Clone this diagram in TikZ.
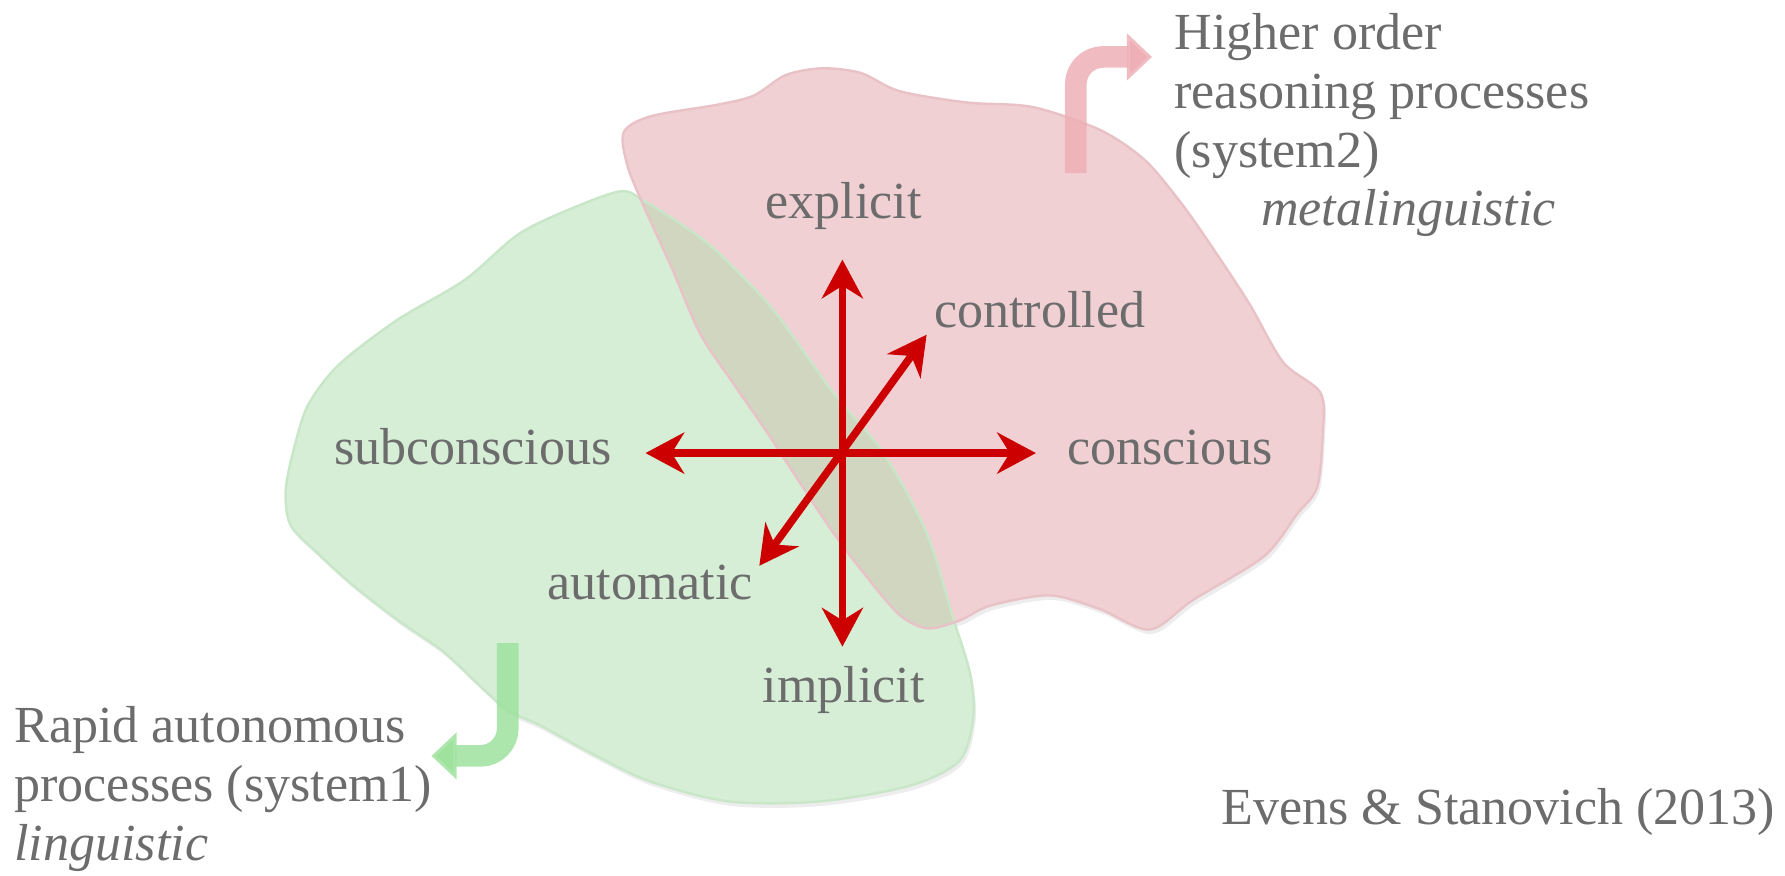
\documentclass[tikz,border=0pt]{standalone}
\usepackage{fontspec}
\setmainfont{Liberation Serif}
\usetikzlibrary{arrows.meta}
\definecolor{arrowred}{RGB}{204,0,0}
\definecolor{labelgray}{RGB}{108,108,108}
\definecolor{sysgreen}{RGB}{214,238,214}
\definecolor{syspink}{RGB}{240,208,211}
\definecolor{overlapolive}{RGB}{209,214,193}
\definecolor{greenedge}{RGB}{200,230,200}
\definecolor{pinkedge}{RGB}{232,194,198}
\definecolor{bentgreen}{RGB}{158,226,158}
\definecolor{bentpink}{RGB}{238,176,182}

\begin{document}
\begin{tikzpicture}[
    x=0.01cm, y=-0.01cm,
    line join=round,
    lbl/.style={font=\fontsize{13}{14.7}\selectfont, text=labelgray, inner sep=0pt},
    axis/.style={arrowred, line width=1.9pt,
        {Stealth[length=3.4mm,width=3.6mm,inset=1.1mm]}-{Stealth[length=3.4mm,width=3.6mm,inset=1.1mm]}},
    bent/.style={line width=0.19cm, rounded corners=0.24cm, draw opacity=0.85,
        -{Triangle[length=2.2mm,width=4.0mm]}},
]

% ── Picture frame (1568 x 769 units) ────────────────────────────────────────
\useasboundingbox (0,0) rectangle (1568,769);

% ── Blob outlines ───────────────────────────────────────────────────────────
\def\greenblob{plot[smooth cycle, tension=0.5] coordinates {
    (455,206) (500,184) (545,168) (565,176) (600,198) (630,221) (679,272)
    (732,345) (776,398) (814,468) (837,542) (852,591) (855,630) (843,668)
    (800,690) (720,704) (640,704) (570,686) (520,662) (474,637) (446,624)
    (419,600) (389,572) (350,545) (310,514) (278,485) (255,461) (251,430)
    (259,391) (271,355) (298,320) (349,281) (408,246)}}
\def\pinkblob{plot[smooth cycle, tension=0.5] coordinates {
    (548,116) (572,102) (630,92) (662,84) (690,66) (722,60) (756,64)
    (790,80) (849,90) (907,94) (966,114) (1005,140) (1035,175) (1060,210)
    (1097,266) (1127,318) (1160,345) (1162,380) (1157,428) (1139,452)
    (1110,489) (1048,527) (1010,553) (966,535) (922,523) (870,532)
    (843,545) (815,552) (790,540) (760,505) (732,468) (700,420) (674,380)
    (645,338) (615,293) (590,235) (565,180) (551,145)}}

% ── Soft shadows ────────────────────────────────────────────────────────────
\begin{scope}[shift={(2,4)}]
    \fill[black, opacity=0.07] \greenblob;
    \fill[black, opacity=0.07] \pinkblob;
\end{scope}

% ── System 1 / System 2 areas ───────────────────────────────────────────────
\fill[sysgreen] \greenblob;
\fill[syspink] \pinkblob;
\begin{scope}
    \clip \greenblob;
    \fill[overlapolive] \pinkblob;
\end{scope}
\draw[greenedge, line width=0.6pt] \greenblob;
\draw[pinkedge, line width=0.6pt] \pinkblob;

% ── Bent arrows to the side texts ───────────────────────────────────────────
\coordinate (p0) at (945,152);
\coordinate (p1) at (945,50);
\coordinate (p2) at (1012,50);
\draw[bent, bentpink] (p0) -- (p1) -- (p2);

\coordinate (g0) at (446,565);
\coordinate (g1) at (446,664);
\coordinate (g2) at (379,664);
\draw[bent, bentgreen] (g0) -- (g1) -- (g2);

% ── Axes ────────────────────────────────────────────────────────────────────
\coordinate (C) at (740,398);
\coordinate (up) at (740,228);
\coordinate (down) at (740,568);
\coordinate (left) at (567,398);
\coordinate (right) at (910,398);
\coordinate (ne) at (814,294);
\coordinate (sw) at (667,497);

\draw[axis] (down) -- (up);
\draw[axis] (left) -- (right);
\draw[axis] (sw) -- (ne);

% ── Axis labels ─────────────────────────────────────────────────────────────
\node[lbl, anchor=base] (explicit) at (741,192) {explicit};
\node[lbl, anchor=base] (implicit) at (741,617) {implicit};
\node[lbl, anchor=base west] (controlled) at (820,288) {controlled};
\node[lbl, anchor=base east] (automatic) at (662,527) {automatic};
\node[lbl, anchor=base east] (subconscious) at (538,408) {subconscious};
\node[lbl, anchor=base west] (conscious) at (937,408) {conscious};

% ── Side texts ──────────────────────────────────────────────────────────────
\node[lbl, anchor=north west, align=left] (higher) at (1031,11)
    {Higher order\\reasoning processes\\(system2)\\\hspace*{0.76cm}\textit{metalinguistic}};
\node[lbl, anchor=north west, align=left] (rapid) at (12,620)
    {Rapid autonomous\\processes (system1)\\\textit{linguistic}};
\node[lbl, anchor=base east] (evens) at (1560,724) {Evens \& Stanovich (2013)};

\end{tikzpicture}
\end{document}
